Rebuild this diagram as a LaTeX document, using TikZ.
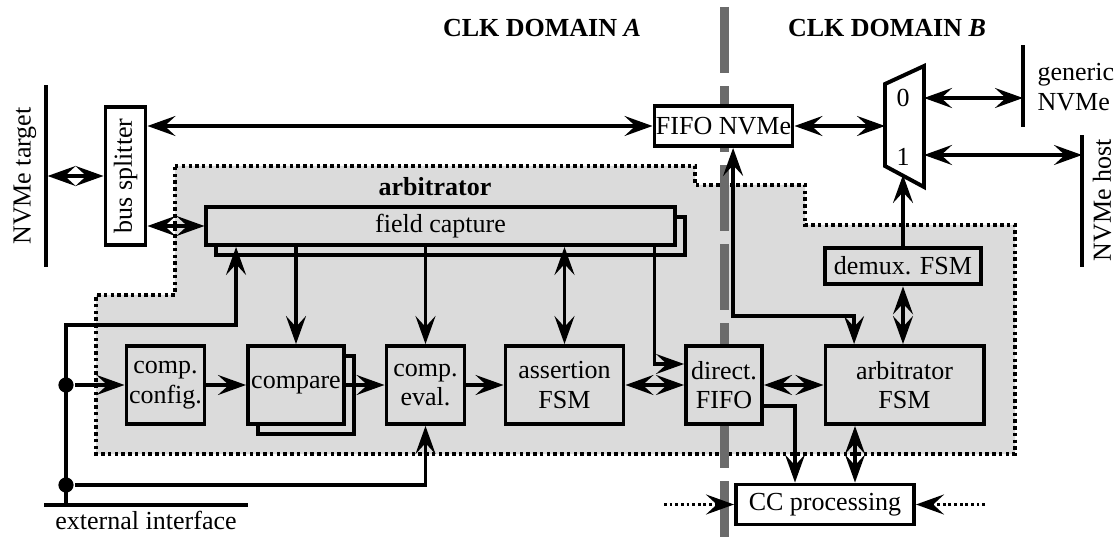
\documentclass[tikz,border=0pt]{standalone}
\usepackage{fontspec}
\setmainfont{Liberation Serif}
\usetikzlibrary{positioning}
\usetikzlibrary{calc}
\usetikzlibrary{arrows.meta}
\usetikzlibrary{shadows}
\tikzset{
  box/.style       = { rectangle, draw=black, line width=2.8pt, inner sep=1pt, align=center },
  inbox/.style     = { box, fill=black!14 },
  outbox/.style    = { box, fill=white },
  stack/.style     = { copy shadow={shadow xshift=0.25cm, shadow yshift=-0.26cm} },
  bar/.style       = { inner sep=0pt, minimum width=0pt },
  barline/.style   = { line width=3pt },
  dotbus/.style    = { circle, fill=black, inner sep=0pt, minimum size=0.38cm },
  region/.style    = { fill=black!14, line width=2.6pt, dash pattern=on 2.4pt off 2.4pt },
  clkborder/.style = { draw=black!58, line width=6.4pt, dash pattern=on 1.65cm off 0.325cm },
  dottedarrow/.style = { dash pattern=on 2pt off 2pt },
  title/.style     = { font=\fontsize{18.5}{21}\selectfont\bfseries },
}

\begin{document}
\begin{tikzpicture}[
  x=0.025cm, y=-0.025cm,
  >={Stealth[length=0.7cm,width=0.5cm,inset=0.27cm]},
  line width=2.3pt,
  every node/.style={font=\fontsize{18.5}{21}\selectfont},
]
  \useasboundingbox (0,0) rectangle (1118,537);

  % shaded arbitrator area and clock domain border
  \draw [region] (175,166) -- (695,166) -- (695,185) -- (805,185) -- (805,225)
    -- (1015,225) -- (1015,454) -- (96,454) -- (96,295) -- (175,295) -- cycle;
  \draw [clkborder] (724,7) -- (724,560);

  \node (doma) [title] at (542,28) {CLK DOMAIN \textit{A}};
  \node (domb) [title] at (887,28) {CLK DOMAIN \textit{B}};

  % interfaces
  \node (target)      [bar,minimum height=4.45cm] at (46,176)  {};
  \node (targetlabel) [rotate=90]                 at (25,176)  {NVMe target};
  \node (generic)     [bar,minimum height=1.95cm] at (1023,86) {};
  \node (genericlabel)[align=left,anchor=west,inner sep=0pt] at (1036,87) {generic\\NVMe};
  \node (host)        [bar,minimum height=3.2cm]  at (1082,201) {};
  \node (hostlabel)   [rotate=90]                 at (1102,200) {NVMe host};
  \node (extif)       [bar,minimum width=5cm]     at (146,505) {};
  \node (extiflabel)  [below=-2pt of extif]                    {external interface};
  \draw [barline] (target.north)  -- (target.south);
  \draw [barline] (generic.north) -- (generic.south);
  \draw [barline] (host.north)    -- (host.south);
  \draw [barline] (extif.west)    -- (extif.east);

  % blocks
  \node (splitter) [outbox,minimum width=1cm,minimum height=3.45cm]       at (125.5,176) {\rotatebox{90}{bus splitter}};
  \node (fifonvme) [outbox,minimum width=3.45cm,minimum height=1cm]       at (723.5,126) {FIFO NVMe};
  \node (arbtitle) [title]                                                at (435,187)   {arbitrator};
  \node (fieldcap) [inbox,stack,minimum width=11.7cm,minimum height=0.95cm] at (440.5,226) {field capture};
  \node (compconf) [inbox,minimum width=1.95cm,minimum height=1.95cm]     at (165.5,385) {comp.\\config.};
  \node (compare)  [inbox,stack,minimum width=2.4cm,minimum height=1.95cm] at (296,385)  {\raisebox{4pt}{compare}};
  \node (compeval) [inbox,minimum width=1.95cm,minimum height=1.95cm]     at (425.5,385) {comp.\\eval.};
  \node (assert)   [inbox,minimum width=2.95cm,minimum height=1.95cm]     at (564.5,385) {assertion\\FSM};
  \node (dirfifo)  [inbox,minimum width=1.9cm,minimum height=1.95cm]      at (724,385)   {direct.\\FIFO};
  \node (arbfsm)   [inbox,minimum width=3.95cm,minimum height=1.95cm]     at (904.5,385) {arbitrator\\FSM};
  \node (demux)    [inbox,minimum width=3.9cm,minimum height=0.92cm]      at (903,266)   {demux. FSM};
  \node (ccproc)   [outbox,minimum width=4.45cm,minimum height=1cm]       at (825,504.5) {CC processing};

  % multiplexer
  \draw [line width=2.8pt] (885,84) -- (924,66) -- (924,187) -- (885,166) -- cycle;
  \node (mux0) at (903,98)  {0};
  \node (mux1) at (903,157) {1};
  \coordinate (muxin)   at (885,126);
  \coordinate (muxout0) at (924,98);
  \coordinate (muxout1) at (924,155);
  \coordinate (muxsel)  at (903,175);

  \node (dot1) [dotbus] at (66,385) {};
  \node (dot2) [dotbus] at (66,485) {};
  \coordinate (ccleft)  at (664,504.5);
  \coordinate (ccright) at (985,504.5);
  \coordinate (ccarb)   at ([xshift=0.75cm]ccproc.north);

  % connections
  \draw [<->] (target) -- (splitter);
  \draw [<->] (splitter.east |- fieldcap) -- (fieldcap.west);
  \draw [<->] (splitter.east |- fifonvme) -- (fifonvme.west);
  \draw [<->] (fifonvme) -- (muxin);
  \draw [<->] (muxout0) -- (muxout0 -| generic);
  \draw [<->] (muxout1) -- (muxout1 -| host);
  \draw [->]  (demux) -- (muxsel);
  \draw [<->] (demux) -- (demux |- arbfsm.north);
  \draw [<->] ([xshift=0.24cm]fifonvme.south) -- ++(0,168) -| ([xshift=-1.26cm]arbfsm.north);

  \draw [->]  (fieldcap.south -| compare)  -- (compare);
  \draw [->]  (fieldcap.south -| compeval) -- (compeval);
  \draw [<->] (fieldcap.south -| assert)   -- (assert);
  \draw [->]  ([xshift=5.34cm]fieldcap.south) |- ([yshift=0.525cm]dirfifo.west);

  \draw [->] (dot2 |- extif) -- ++(0,-180) -| ([xshift=-5.11cm]fieldcap.south);
  \draw [->] (dot1) -- (compconf);
  \draw [->] (dot2) -| (compeval);

  \draw [->]  (compconf) -- (compare);
  \draw [->]  (compare)  -- (compeval);
  \draw [->]  (compeval) -- (assert);
  \draw [<->] (assert)   -- (dirfifo);
  \draw [<->] (dirfifo)  -- (arbfsm);
  \draw [->]  ([yshift=-0.525cm]dirfifo.east) -| ([xshift=-0.75cm]ccproc.north);
  \draw [<->] (ccarb |- arbfsm.south) -- (ccarb);
  \draw [->,dottedarrow] (ccleft)  -- (ccproc.west);
  \draw [->,dottedarrow] (ccright) -- (ccproc.east);
\end{tikzpicture}
\end{document}
